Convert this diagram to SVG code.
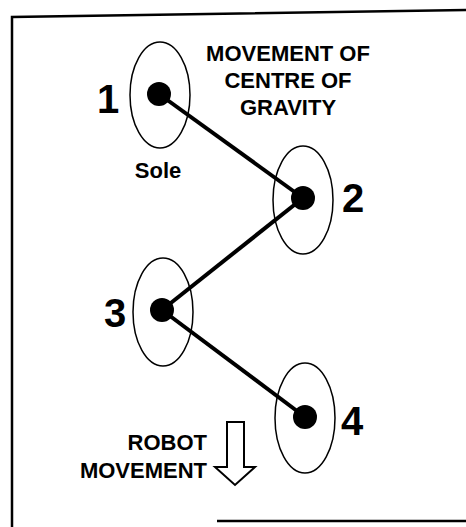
<svg xmlns="http://www.w3.org/2000/svg" width="466" height="527" viewBox="0 0 466 527">
<style>
.sole{fill:none;stroke:#000;stroke-width:1.5}
.dot{fill:#000}
.num{font-family:"Liberation Sans",Arial,sans-serif;font-weight:bold;font-size:40px;fill:#000}
.lbl{font-family:"Liberation Sans",Arial,sans-serif;font-weight:bold;font-size:22px;fill:#000}
.conn{stroke:#000;stroke-width:4;fill:none}
.frame{stroke:#000;stroke-width:2.5;fill:none}
</style>
<rect width="466" height="527" fill="#fff"/>
<g id="frame">
<polyline class="frame" points="12,527 12,17 466,10"/>
<line class="frame" x1="217" y1="521" x2="466" y2="521"/>
</g>
<g id="connectors">
<line class="conn" x1="159" y1="94" x2="303" y2="198"/>
<line class="conn" x1="303" y1="198" x2="162" y2="310"/>
<line class="conn" x1="162" y1="310" x2="305" y2="417"/>
</g>
<g id="node1">
<ellipse class="sole" cx="160" cy="95" rx="30" ry="53"/>
<circle class="dot" cx="159" cy="94" r="12"/>
<text class="num" x="97" y="113">1</text>
</g>
<g id="node2">
<ellipse class="sole" cx="303" cy="200" rx="30" ry="54"/>
<circle class="dot" cx="303" cy="198" r="12"/>
<text class="num" x="342" y="212">2</text>
</g>
<g id="node3">
<ellipse class="sole" cx="163" cy="312" rx="30" ry="54"/>
<circle class="dot" cx="162" cy="310" r="12"/>
<text class="num" x="104" y="327">3</text>
</g>
<g id="node4">
<ellipse class="sole" cx="305" cy="418" rx="30" ry="55"/>
<circle class="dot" cx="305" cy="417" r="12"/>
<text class="num" x="341" y="435">4</text>
</g>
<g id="title">
<text class="lbl" text-anchor="middle" x="288" y="61">MOVEMENT OF</text>
<text class="lbl" text-anchor="middle" x="288" y="88">CENTRE OF</text>
<text class="lbl" text-anchor="middle" x="288" y="115">GRAVITY</text>
</g>
<g id="sole-label">
<text class="lbl" text-anchor="middle" x="158" y="178" font-size="20">Sole</text>
</g>
<g id="robot-movement">
<text class="lbl" text-anchor="end" x="207" y="450">ROBOT</text>
<text class="lbl" text-anchor="end" x="207" y="478">MOVEMENT</text>
<polygon points="227,422 244,422 244,467 255,467 235,485 215,467 227,467" fill="#fff" stroke="#000" stroke-width="2"/>
</g>
</svg>
